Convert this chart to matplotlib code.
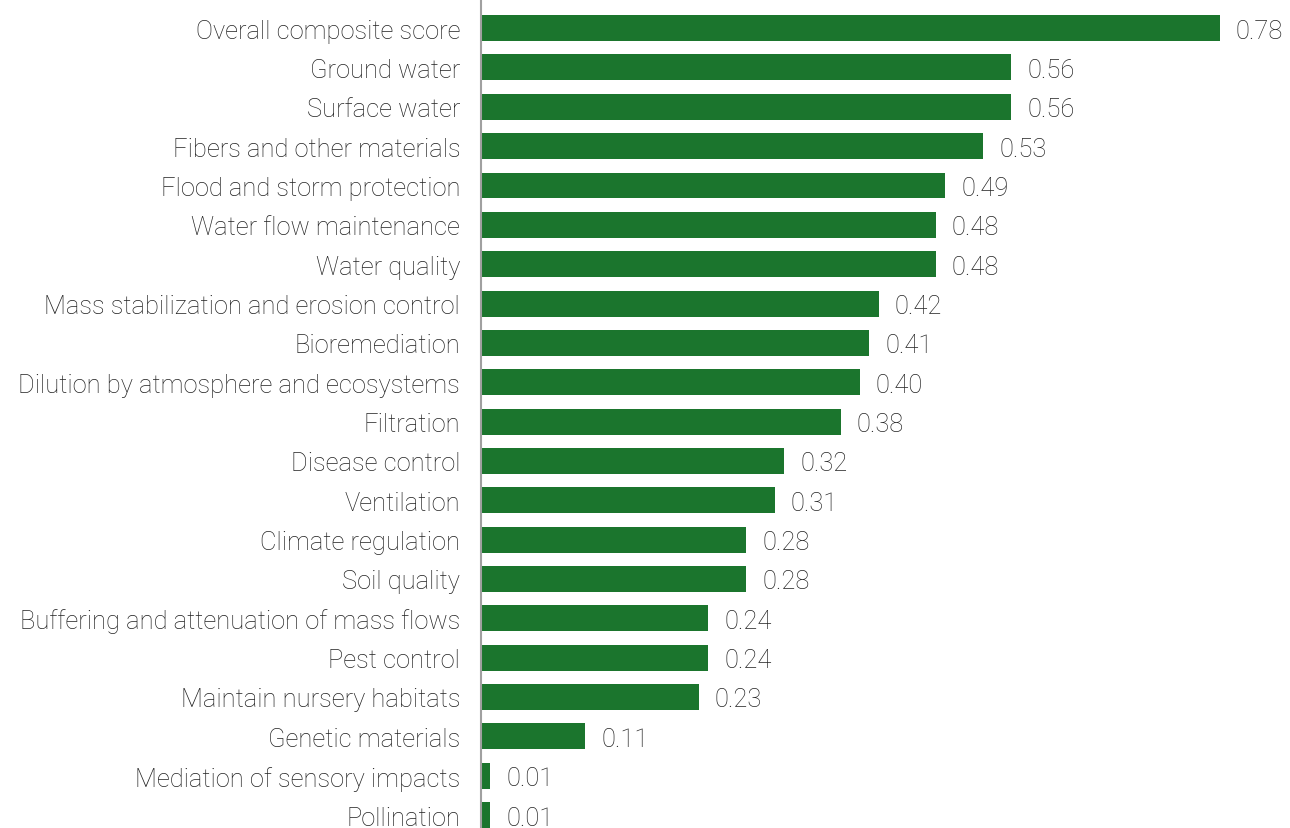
import matplotlib.pyplot as plt
from matplotlib import font_manager

categories = [
    "Overall composite score", "Ground water", "Surface water",
    "Fibers and other materials", "Flood and storm protection",
    "Water flow maintenance", "Water quality",
    "Mass stabilization and erosion control", "Bioremediation",
    "Dilution by atmosphere and ecosystems", "Filtration", "Disease control",
    "Ventilation", "Climate regulation", "Soil quality",
    "Buffering and attenuation of mass flows", "Pest control",
    "Maintain nursery habitats", "Genetic materials",
    "Mediation of sensory impacts", "Pollination",
]
scores = [0.78, 0.56, 0.56, 0.53, 0.49, 0.48, 0.48, 0.42, 0.41, 0.40, 0.38,
          0.32, 0.31, 0.28, 0.28, 0.24, 0.24, 0.23, 0.11, 0.01, 0.01]

names = {f.name for f in font_manager.fontManager.ttflist}
plt.rcParams['font.family'] = ['Roboto' if 'Roboto' in names else 'DejaVu Sans']

bar_color = '#1b752d'
text_color = '#222222'
fsize = 18.4

fig = plt.figure(figsize=(12.9, 8.29), dpi=100)
ax = fig.add_axes([481 / 1290, 0, 1 - 481 / 1290, 1])

ypos = list(range(len(categories)))
ax.barh(ypos, scores, height=0.66, color=bar_color)

for y, v in zip(ypos, scores):
    ax.text(v + 0.017, y, f"{v:.2f}", va='center_baseline', ha='left',
            fontsize=fsize, color=text_color, fontweight='light')

ax.set_yticks(ypos)
ax.set_yticklabels(categories, fontsize=fsize, color=text_color, fontweight='light')
ax.tick_params(axis='y', length=0, pad=15)
ax.set_xticks([])
ax.set_xlim(0, (1290 - 481) / 947)
ax.set_ylim(20.33, -0.74)

for s in ['top', 'right', 'bottom']:
    ax.spines[s].set_visible(False)
ax.spines['left'].set_color('#a0a0a0')
ax.spines['left'].set_linewidth(1.5)

fig.savefig('out.png', dpi=100)
